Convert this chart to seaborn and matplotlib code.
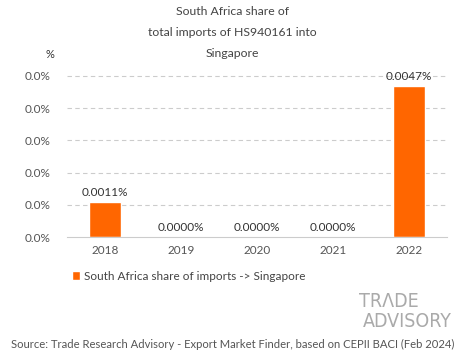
import matplotlib
matplotlib.use("Agg")
import matplotlib.pyplot as plt
import seaborn as sns
import pandas as pd

years = ["2018", "2019", "2020", "2021", "2022"]
shares = [0.0011, 0.0, 0.0, 0.0, 0.0047]
bar_labels = ["0.0011%", "0.0000%", "0.0000%", "0.0000%", "0.0047%"]
yticks = [0.0, 0.001, 0.002, 0.003, 0.004, 0.005]
ytick_labels = ["0.0%"] * 6
series_name = "South Africa share of imports -> Singapore"
title = "South Africa share of\ntotal imports of HS940161 into\nSingapore"
source = "Source: Trade Research Advisory - Export Market Finder, based on CEPII BACI (Feb 2024)"

sns.set_style("white")
plt.rcParams['font.family'] = ['Lato', 'DejaVu Sans']
txt = "#555555"
orange = "#FF6600"

df = pd.DataFrame({"year": years, "share": shares})
fig = plt.figure(figsize=(4.65, 3.59), dpi=100)
ax = fig.add_axes([67/465, 1-237/359, 380/465, (237-60)/359])
sns.barplot(data=df, x="year", y="share", color=orange, width=0.42, ax=ax,
            saturation=1, label=series_name)
ax.set_ylim(0, 0.005 * (237-60)/(237-76))
ax.set_yticks(yticks)
ax.set_yticklabels(ytick_labels, color=txt, fontsize=8.5)
ax.tick_params(axis='x', colors=txt, labelsize=8.5, length=0, pad=6)
ax.tick_params(axis='y', length=0, pad=12)
ax.set_xlabel("")
ax.set_ylabel("")
for t in yticks[1:]:
    ax.axhline(t, color="#cccccc", lw=0.8, ls=(0, (4, 3)), zorder=0)
for s in ["top", "right", "left"]:
    ax.spines[s].set_visible(False)
ax.spines["bottom"].set_color("#cccccc")
for i, (v, lab) in enumerate(zip(shares, bar_labels)):
    ax.text(i, v + 0.00012, lab, ha="center", va="bottom", color="#333333", fontsize=8.5)
ax.text(-0.045, 1.0, "%", transform=ax.transAxes, ha="center", va="bottom",
        color="#333333", fontsize=8)
fig.text(0.5, 1-6/359, title, ha="center", va="top", color="#444444",
         fontsize=8.8, linespacing=2.1)
leg = ax.legend(loc="upper left", bbox_to_anchor=(-0.015, -0.13), frameon=False,
                fontsize=8.5, handlelength=0.7, handleheight=0.7, handletextpad=0.3,
                labelcolor="#444444")

# logo
fig.text(419/465, 1-307/359, "TR\u039bDE", ha="right", va="baseline", color="#aaaaaa",
         fontsize=14, family=["DejaVu Sans"], fontstretch="condensed")
fig.text(452/465, 1-327/359, "ADVISORY", ha="right", va="baseline", color="#aaaaaa",
         fontsize=14, family=["DejaVu Sans"], fontstretch="condensed")

fig.text(0.5, 1-350/359, source, ha="center", va="bottom", color="#555555", fontsize=8.1)
fig.savefig("out.png", dpi=100)
